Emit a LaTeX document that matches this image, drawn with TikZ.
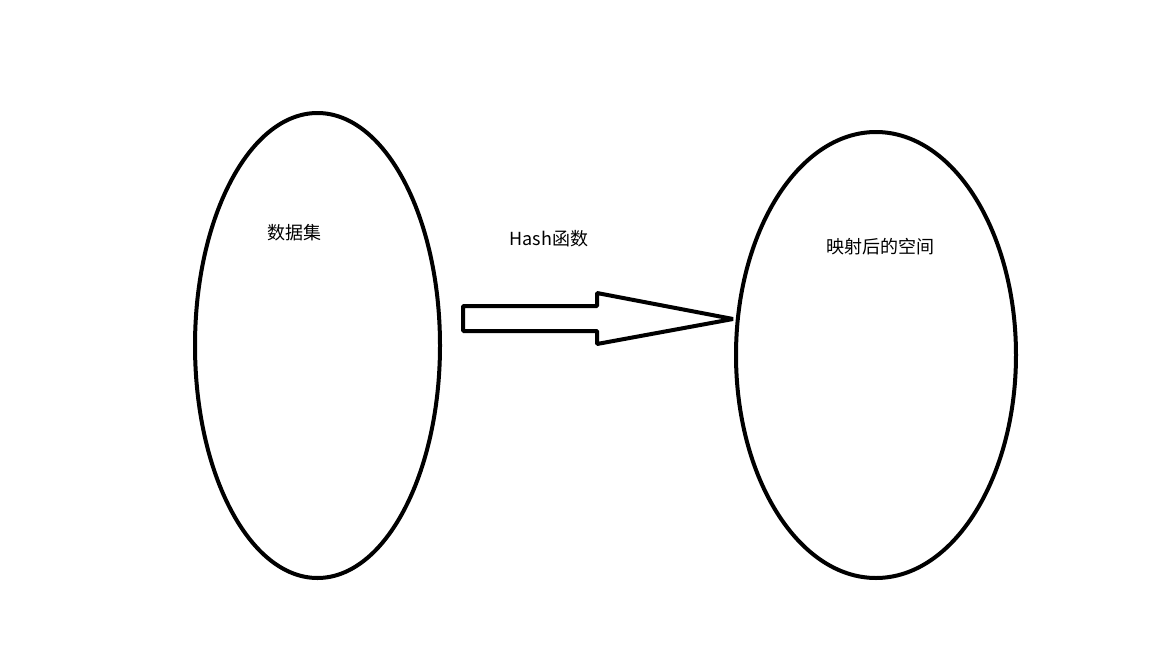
\documentclass[tikz,border=0pt]{standalone}
\usepackage{fontspec}
\setmainfont{Noto Sans CJK SC}
\usetikzlibrary{shapes.geometric}
\begin{document}
\begin{tikzpicture}[x=1pt,y=-1pt,
  set/.style={ellipse,draw=black,line width=4pt,inner sep=0pt,outer sep=0pt},
  lbl/.style={font=\fontsize{18}{21}\selectfont,inner sep=0pt},
  blockarrow/.style={draw=black,line width=4pt,line join=bevel,fill=white}]
\useasboundingbox (0,0) rectangle (1152,648);
\node[set,minimum width=245pt,minimum height=465pt] (src) at (317.5,345.5) {};
\node[set,minimum width=280pt,minimum height=446pt] (dst) at (876,355) {};
\node[lbl] (srclbl) at (294,233) {数据集};
\node[lbl] (fnlbl) at (549,239) {Hash函数};
\node[lbl] (dstlbl) at (880,247) {映射后的空间};
\coordinate (tail) at (463,319);
\coordinate (tip) at (733,319);
\draw[blockarrow] (tail |- 0,306) -- (597,306) -- (597,293) -- (tip) -- (597,344) -- (597,331) -- (tail |- 0,331) -- cycle;
\end{tikzpicture}
\end{document}
